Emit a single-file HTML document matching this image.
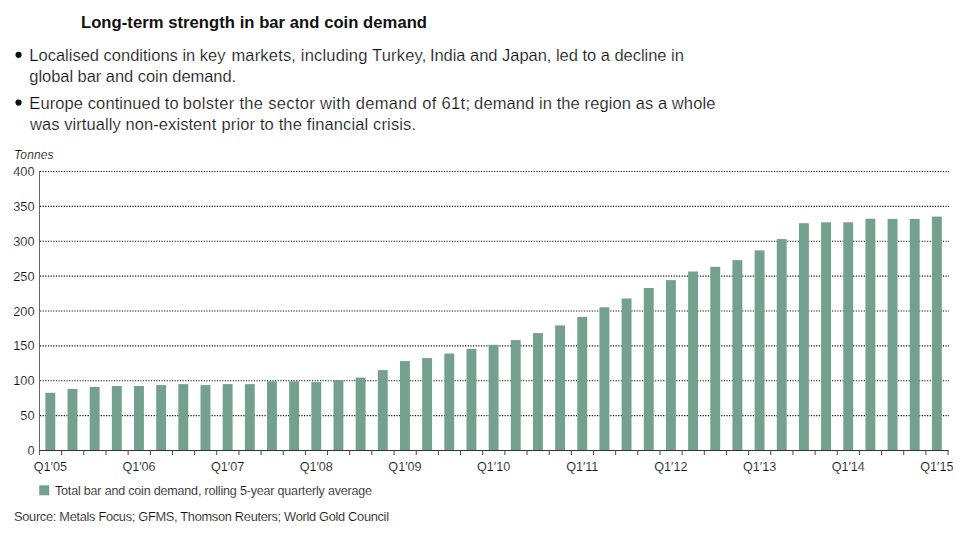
<!DOCTYPE html><html><head><meta charset="utf-8"><style>html,body{margin:0;padding:0;background:#fff;width:963px;height:539px;overflow:hidden}</style></head><body><svg width="963" height="539" viewBox="0 0 963 539" style="display:block">
<rect width="963" height="539" fill="#fff"/>
<line x1="40" y1="415.62" x2="949" y2="415.62" stroke="#111" stroke-width="1.1" stroke-dasharray="1.2 1.44"/>
<line x1="40" y1="380.75" x2="949" y2="380.75" stroke="#111" stroke-width="1.1" stroke-dasharray="1.2 1.44"/>
<line x1="40" y1="345.88" x2="949" y2="345.88" stroke="#111" stroke-width="1.1" stroke-dasharray="1.2 1.44"/>
<line x1="40" y1="311.00" x2="949" y2="311.00" stroke="#111" stroke-width="1.1" stroke-dasharray="1.2 1.44"/>
<line x1="40" y1="276.12" x2="949" y2="276.12" stroke="#111" stroke-width="1.1" stroke-dasharray="1.2 1.44"/>
<line x1="40" y1="241.25" x2="949" y2="241.25" stroke="#111" stroke-width="1.1" stroke-dasharray="1.2 1.44"/>
<line x1="40" y1="206.38" x2="949" y2="206.38" stroke="#111" stroke-width="1.1" stroke-dasharray="1.2 1.44"/>
<line x1="40" y1="171.50" x2="949" y2="171.50" stroke="#111" stroke-width="1.1" stroke-dasharray="1.2 1.44"/>
<rect x="45.37" y="392.80" width="9.9" height="57.20" fill="#74a08e"/>
<rect x="67.53" y="388.90" width="9.9" height="61.10" fill="#74a08e"/>
<rect x="89.70" y="387.00" width="9.9" height="63.00" fill="#74a08e"/>
<rect x="111.86" y="386.00" width="9.9" height="64.00" fill="#74a08e"/>
<rect x="134.03" y="386.00" width="9.9" height="64.00" fill="#74a08e"/>
<rect x="156.19" y="385.10" width="9.9" height="64.90" fill="#74a08e"/>
<rect x="178.35" y="384.10" width="9.9" height="65.90" fill="#74a08e"/>
<rect x="200.52" y="385.10" width="9.9" height="64.90" fill="#74a08e"/>
<rect x="222.68" y="384.10" width="9.9" height="65.90" fill="#74a08e"/>
<rect x="244.85" y="384.10" width="9.9" height="65.90" fill="#74a08e"/>
<rect x="267.01" y="381.30" width="9.9" height="68.70" fill="#74a08e"/>
<rect x="289.17" y="381.30" width="9.9" height="68.70" fill="#74a08e"/>
<rect x="311.34" y="382.10" width="9.9" height="67.90" fill="#74a08e"/>
<rect x="333.50" y="380.20" width="9.9" height="69.80" fill="#74a08e"/>
<rect x="355.67" y="377.60" width="9.9" height="72.40" fill="#74a08e"/>
<rect x="377.83" y="370.10" width="9.9" height="79.90" fill="#74a08e"/>
<rect x="399.99" y="361.10" width="9.9" height="88.90" fill="#74a08e"/>
<rect x="422.16" y="358.10" width="9.9" height="91.90" fill="#74a08e"/>
<rect x="444.32" y="353.50" width="9.9" height="96.50" fill="#74a08e"/>
<rect x="466.49" y="348.80" width="9.9" height="101.20" fill="#74a08e"/>
<rect x="488.65" y="344.80" width="9.9" height="105.20" fill="#74a08e"/>
<rect x="510.81" y="340.10" width="9.9" height="109.90" fill="#74a08e"/>
<rect x="532.98" y="333.10" width="9.9" height="116.90" fill="#74a08e"/>
<rect x="555.14" y="325.40" width="9.9" height="124.60" fill="#74a08e"/>
<rect x="577.31" y="316.90" width="9.9" height="133.10" fill="#74a08e"/>
<rect x="599.47" y="307.30" width="9.9" height="142.70" fill="#74a08e"/>
<rect x="621.63" y="298.50" width="9.9" height="151.50" fill="#74a08e"/>
<rect x="643.80" y="288.00" width="9.9" height="162.00" fill="#74a08e"/>
<rect x="665.96" y="280.10" width="9.9" height="169.90" fill="#74a08e"/>
<rect x="688.13" y="271.50" width="9.9" height="178.50" fill="#74a08e"/>
<rect x="710.29" y="266.80" width="9.9" height="183.20" fill="#74a08e"/>
<rect x="732.45" y="260.10" width="9.9" height="189.90" fill="#74a08e"/>
<rect x="754.62" y="250.40" width="9.9" height="199.60" fill="#74a08e"/>
<rect x="776.78" y="239.10" width="9.9" height="210.90" fill="#74a08e"/>
<rect x="798.95" y="223.20" width="9.9" height="226.80" fill="#74a08e"/>
<rect x="821.11" y="222.30" width="9.9" height="227.70" fill="#74a08e"/>
<rect x="843.27" y="222.30" width="9.9" height="227.70" fill="#74a08e"/>
<rect x="865.44" y="218.70" width="9.9" height="231.30" fill="#74a08e"/>
<rect x="887.60" y="218.90" width="9.9" height="231.10" fill="#74a08e"/>
<rect x="909.77" y="218.90" width="9.9" height="231.10" fill="#74a08e"/>
<rect x="931.93" y="216.60" width="9.9" height="233.40" fill="#74a08e"/>
<line x1="39.5" y1="171" x2="39.5" y2="455" stroke="#666" stroke-width="1"/>
<line x1="39" y1="450.5" x2="948.5" y2="450.5" stroke="#333" stroke-width="1"/>
<line x1="61.66" y1="450" x2="61.66" y2="455" stroke="#444" stroke-width="1"/>
<line x1="83.82" y1="450" x2="83.82" y2="455" stroke="#444" stroke-width="1"/>
<line x1="105.98" y1="450" x2="105.98" y2="455" stroke="#444" stroke-width="1"/>
<line x1="128.14" y1="450" x2="128.14" y2="455" stroke="#444" stroke-width="1"/>
<line x1="150.30" y1="450" x2="150.30" y2="455" stroke="#444" stroke-width="1"/>
<line x1="172.46" y1="450" x2="172.46" y2="455" stroke="#444" stroke-width="1"/>
<line x1="194.62" y1="450" x2="194.62" y2="455" stroke="#444" stroke-width="1"/>
<line x1="216.78" y1="450" x2="216.78" y2="455" stroke="#444" stroke-width="1"/>
<line x1="238.94" y1="450" x2="238.94" y2="455" stroke="#444" stroke-width="1"/>
<line x1="261.10" y1="450" x2="261.10" y2="455" stroke="#444" stroke-width="1"/>
<line x1="283.26" y1="450" x2="283.26" y2="455" stroke="#444" stroke-width="1"/>
<line x1="305.42" y1="450" x2="305.42" y2="455" stroke="#444" stroke-width="1"/>
<line x1="327.58" y1="450" x2="327.58" y2="455" stroke="#444" stroke-width="1"/>
<line x1="349.74" y1="450" x2="349.74" y2="455" stroke="#444" stroke-width="1"/>
<line x1="371.90" y1="450" x2="371.90" y2="455" stroke="#444" stroke-width="1"/>
<line x1="394.06" y1="450" x2="394.06" y2="455" stroke="#444" stroke-width="1"/>
<line x1="416.22" y1="450" x2="416.22" y2="455" stroke="#444" stroke-width="1"/>
<line x1="438.38" y1="450" x2="438.38" y2="455" stroke="#444" stroke-width="1"/>
<line x1="460.54" y1="450" x2="460.54" y2="455" stroke="#444" stroke-width="1"/>
<line x1="482.70" y1="450" x2="482.70" y2="455" stroke="#444" stroke-width="1"/>
<line x1="504.86" y1="450" x2="504.86" y2="455" stroke="#444" stroke-width="1"/>
<line x1="527.02" y1="450" x2="527.02" y2="455" stroke="#444" stroke-width="1"/>
<line x1="549.18" y1="450" x2="549.18" y2="455" stroke="#444" stroke-width="1"/>
<line x1="571.34" y1="450" x2="571.34" y2="455" stroke="#444" stroke-width="1"/>
<line x1="593.50" y1="450" x2="593.50" y2="455" stroke="#444" stroke-width="1"/>
<line x1="615.66" y1="450" x2="615.66" y2="455" stroke="#444" stroke-width="1"/>
<line x1="637.82" y1="450" x2="637.82" y2="455" stroke="#444" stroke-width="1"/>
<line x1="659.98" y1="450" x2="659.98" y2="455" stroke="#444" stroke-width="1"/>
<line x1="682.14" y1="450" x2="682.14" y2="455" stroke="#444" stroke-width="1"/>
<line x1="704.30" y1="450" x2="704.30" y2="455" stroke="#444" stroke-width="1"/>
<line x1="726.46" y1="450" x2="726.46" y2="455" stroke="#444" stroke-width="1"/>
<line x1="748.62" y1="450" x2="748.62" y2="455" stroke="#444" stroke-width="1"/>
<line x1="770.78" y1="450" x2="770.78" y2="455" stroke="#444" stroke-width="1"/>
<line x1="792.94" y1="450" x2="792.94" y2="455" stroke="#444" stroke-width="1"/>
<line x1="815.10" y1="450" x2="815.10" y2="455" stroke="#444" stroke-width="1"/>
<line x1="837.26" y1="450" x2="837.26" y2="455" stroke="#444" stroke-width="1"/>
<line x1="859.42" y1="450" x2="859.42" y2="455" stroke="#444" stroke-width="1"/>
<line x1="881.58" y1="450" x2="881.58" y2="455" stroke="#444" stroke-width="1"/>
<line x1="903.74" y1="450" x2="903.74" y2="455" stroke="#444" stroke-width="1"/>
<line x1="925.90" y1="450" x2="925.90" y2="455" stroke="#444" stroke-width="1"/>
<line x1="948.06" y1="450" x2="948.06" y2="455" stroke="#444" stroke-width="1"/>
<text x="81" y="28.4" font-family="Liberation Sans, sans-serif" font-size="16.6" font-weight="bold" font-style="normal" text-anchor="start" fill="#111" textLength="346" lengthAdjust="spacing">Long-term strength in bar and coin demand</text>
<circle cx="18.55" cy="54.8" r="3.1" fill="#111"/>
<circle cx="18.55" cy="102.6" r="3.1" fill="#111"/>
<text x="29.35" y="60.5" font-family="Liberation Sans, sans-serif" font-size="16.5" fill="#111" stroke="#fff" stroke-width="0.2" textLength="196.09" lengthAdjust="spacing">Localised conditions in key</text>
<text x="231.40" y="60.5" font-family="Liberation Sans, sans-serif" font-size="16.5" fill="#111" stroke="#fff" stroke-width="0.2" textLength="194.88" lengthAdjust="spacing">markets, including Turkey,</text>
<text x="429.88" y="60.5" font-family="Liberation Sans, sans-serif" font-size="16.5" fill="#111" stroke="#fff" stroke-width="0.2" textLength="253.99" lengthAdjust="spacing">India and Japan, led to a decline in</text>
<text x="29.31" y="81.7" font-family="Liberation Sans, sans-serif" font-size="16.5" fill="#111" stroke="#fff" stroke-width="0.2" textLength="206.90" lengthAdjust="spacing">global bar and coin demand.</text>
<text x="29.35" y="108.5" font-family="Liberation Sans, sans-serif" font-size="16.5" fill="#111" stroke="#fff" stroke-width="0.2" textLength="149.35" lengthAdjust="spacing">Europe continued to</text>
<text x="182.74" y="108.5" font-family="Liberation Sans, sans-serif" font-size="16.5" fill="#111" stroke="#fff" stroke-width="0.2" textLength="287.25" lengthAdjust="spacing">bolster the sector with demand of 61t;</text>
<text x="474.11" y="108.5" font-family="Liberation Sans, sans-serif" font-size="16.5" fill="#111" stroke="#fff" stroke-width="0.2" textLength="241.23" lengthAdjust="spacing">demand in the region as a whole</text>
<text x="30.02" y="129.5" font-family="Liberation Sans, sans-serif" font-size="16.5" fill="#111" stroke="#fff" stroke-width="0.2" textLength="186.20" lengthAdjust="spacing">was virtually non-existent</text>
<text x="221.54" y="129.5" font-family="Liberation Sans, sans-serif" font-size="16.5" fill="#111" stroke="#fff" stroke-width="0.2" textLength="194.47" lengthAdjust="spacing">prior to the financial crisis.</text>
<text x="14" y="158.9" font-family="Liberation Sans, sans-serif" font-size="12" font-weight="normal" font-style="italic" text-anchor="start" fill="#111" textLength="39.5" lengthAdjust="spacing" stroke="#fff" stroke-width="0.15">Tonnes</text>
<text x="34.6" y="455.00" font-family="Liberation Sans, sans-serif" font-size="12.8" font-weight="normal" font-style="normal" text-anchor="end" fill="#111" stroke="#fff" stroke-width="0.15">0</text>
<text x="34.6" y="420.12" font-family="Liberation Sans, sans-serif" font-size="12.8" font-weight="normal" font-style="normal" text-anchor="end" fill="#111" stroke="#fff" stroke-width="0.15">50</text>
<text x="34.6" y="385.25" font-family="Liberation Sans, sans-serif" font-size="12.8" font-weight="normal" font-style="normal" text-anchor="end" fill="#111" stroke="#fff" stroke-width="0.15">100</text>
<text x="34.6" y="350.38" font-family="Liberation Sans, sans-serif" font-size="12.8" font-weight="normal" font-style="normal" text-anchor="end" fill="#111" stroke="#fff" stroke-width="0.15">150</text>
<text x="34.6" y="315.50" font-family="Liberation Sans, sans-serif" font-size="12.8" font-weight="normal" font-style="normal" text-anchor="end" fill="#111" stroke="#fff" stroke-width="0.15">200</text>
<text x="34.6" y="280.62" font-family="Liberation Sans, sans-serif" font-size="12.8" font-weight="normal" font-style="normal" text-anchor="end" fill="#111" stroke="#fff" stroke-width="0.15">250</text>
<text x="34.6" y="245.75" font-family="Liberation Sans, sans-serif" font-size="12.8" font-weight="normal" font-style="normal" text-anchor="end" fill="#111" stroke="#fff" stroke-width="0.15">300</text>
<text x="34.6" y="210.88" font-family="Liberation Sans, sans-serif" font-size="12.8" font-weight="normal" font-style="normal" text-anchor="end" fill="#111" stroke="#fff" stroke-width="0.15">350</text>
<text x="34.6" y="176.00" font-family="Liberation Sans, sans-serif" font-size="12.8" font-weight="normal" font-style="normal" text-anchor="end" fill="#111" stroke="#fff" stroke-width="0.15">400</text>
<text x="50.32" y="471" font-family="Liberation Sans, sans-serif" font-size="12.6" font-weight="normal" font-style="normal" text-anchor="middle" fill="#111" stroke="#fff" stroke-width="0.15">Q1′05</text>
<text x="138.98" y="471" font-family="Liberation Sans, sans-serif" font-size="12.6" font-weight="normal" font-style="normal" text-anchor="middle" fill="#111" stroke="#fff" stroke-width="0.15">Q1′06</text>
<text x="227.63" y="471" font-family="Liberation Sans, sans-serif" font-size="12.6" font-weight="normal" font-style="normal" text-anchor="middle" fill="#111" stroke="#fff" stroke-width="0.15">Q1′07</text>
<text x="316.29" y="471" font-family="Liberation Sans, sans-serif" font-size="12.6" font-weight="normal" font-style="normal" text-anchor="middle" fill="#111" stroke="#fff" stroke-width="0.15">Q1′08</text>
<text x="404.94" y="471" font-family="Liberation Sans, sans-serif" font-size="12.6" font-weight="normal" font-style="normal" text-anchor="middle" fill="#111" stroke="#fff" stroke-width="0.15">Q1′09</text>
<text x="493.60" y="471" font-family="Liberation Sans, sans-serif" font-size="12.6" font-weight="normal" font-style="normal" text-anchor="middle" fill="#111" stroke="#fff" stroke-width="0.15">Q1′10</text>
<text x="582.26" y="471" font-family="Liberation Sans, sans-serif" font-size="12.6" font-weight="normal" font-style="normal" text-anchor="middle" fill="#111" stroke="#fff" stroke-width="0.15">Q1′11</text>
<text x="670.91" y="471" font-family="Liberation Sans, sans-serif" font-size="12.6" font-weight="normal" font-style="normal" text-anchor="middle" fill="#111" stroke="#fff" stroke-width="0.15">Q1′12</text>
<text x="759.57" y="471" font-family="Liberation Sans, sans-serif" font-size="12.6" font-weight="normal" font-style="normal" text-anchor="middle" fill="#111" stroke="#fff" stroke-width="0.15">Q1′13</text>
<text x="848.22" y="471" font-family="Liberation Sans, sans-serif" font-size="12.6" font-weight="normal" font-style="normal" text-anchor="middle" fill="#111" stroke="#fff" stroke-width="0.15">Q1′14</text>
<text x="936.88" y="471" font-family="Liberation Sans, sans-serif" font-size="12.6" font-weight="normal" font-style="normal" text-anchor="middle" fill="#111" stroke="#fff" stroke-width="0.15">Q1′15</text>
<rect x="39.2" y="485.3" width="10" height="10" fill="#74a08e"/>
<text x="55" y="495" font-family="Liberation Sans, sans-serif" font-size="12.5" font-weight="normal" font-style="normal" text-anchor="start" fill="#111" textLength="317" lengthAdjust="spacing" stroke="#fff" stroke-width="0.15">Total bar and coin demand, rolling 5-year quarterly average</text>
<text x="14" y="521" font-family="Liberation Sans, sans-serif" font-size="12.8" font-weight="normal" font-style="normal" text-anchor="start" fill="#111" textLength="375" lengthAdjust="spacing" stroke="#fff" stroke-width="0.15">Source: Metals Focus; GFMS, Thomson Reuters; World Gold Council</text>
</svg></body></html>
